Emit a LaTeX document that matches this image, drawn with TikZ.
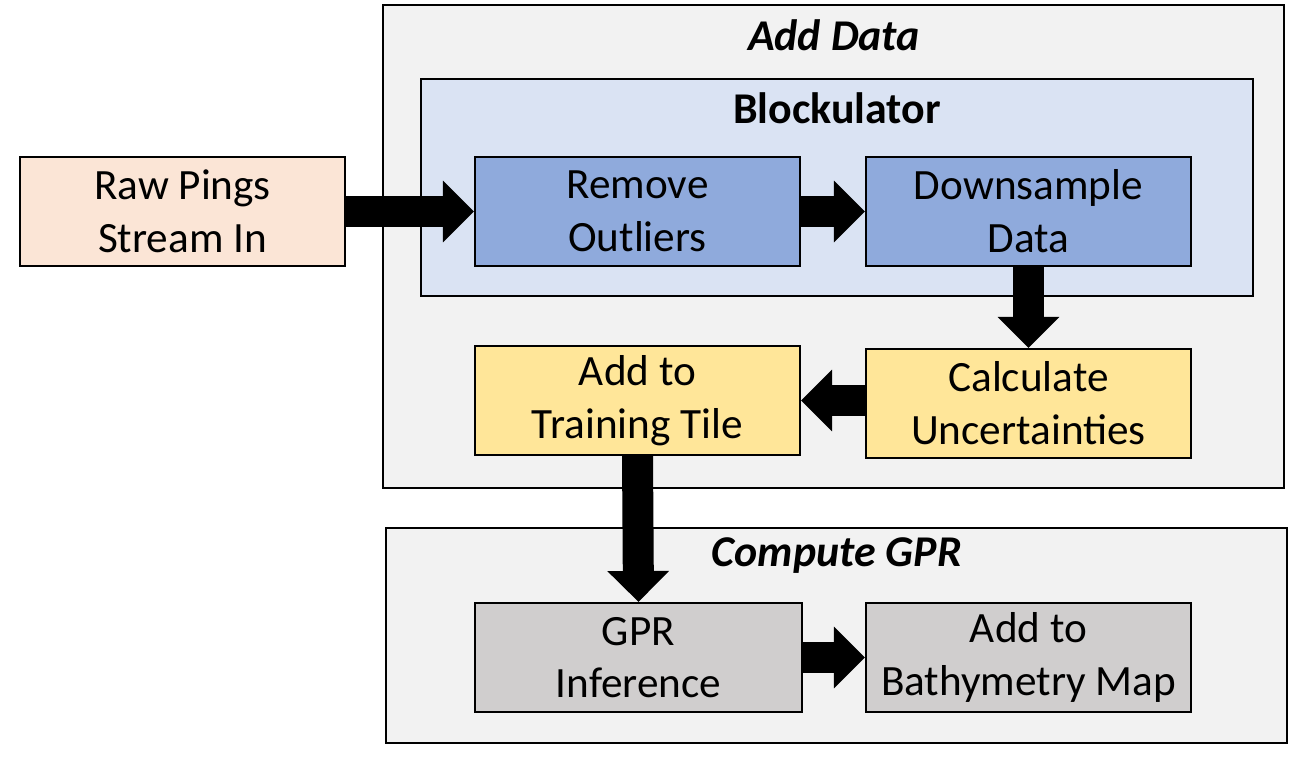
\documentclass[tikz,border=0pt]{standalone}
\usepackage{fontspec}
\setmainfont{Carlito}
\usetikzlibrary{arrows.meta}
\definecolor{grpbg}{HTML}{F2F2F2}
\definecolor{blockbg}{HTML}{DAE3F3}
\definecolor{rawc}{HTML}{FBE5D6}
\definecolor{bluec}{HTML}{8FAADC}
\definecolor{yelc}{HTML}{FFE699}
\definecolor{grayc}{HTML}{D0CECE}
\tikzset{
  px/.style={x=0.02cm,y=-0.02cm},
  group/.style={draw=black,line width=1.2pt,fill=grpbg},
  inner/.style={draw=black,line width=1.2pt,fill=blockbg},
  box/.style={draw=black,line width=1.2pt,minimum width=6.5cm,minimum height=2.18cm,inner sep=0pt,align=center,font=\fontsize{24.6}{30}\selectfont},
  title/.style={font=\fontsize{25}{28}\selectfont\bfseries},
  big/.style={line width=0.62cm,-{Triangle[width=1.2cm,length=0.62cm]}}
}
\begin{document}
\begin{tikzpicture}[px]
\useasboundingbox (0,0) rectangle (1302,757);
\fill[white] (0,0) rectangle (1302,757);
\draw[group] (383,5) rectangle (1284,488);
\node[title,font=\fontsize{25}{28}\selectfont\bfseries\itshape] (tadd) at (834,35) {Add Data};
\draw[inner] (421,79) rectangle (1253,296);
\node[title] (tblock) at (837,108) {Blockulator};
\draw[group] (386,528) rectangle (1287,743);
\node[title,font=\fontsize{25}{28}\selectfont\bfseries\itshape] (tgpr) at (837,556) {Compute GPR};

\node[box,fill=rawc] (raw) at (182.5,211.5) {Raw Pings\\Stream In};
\node[box,fill=bluec] (rem) at (637.5,211.5) {Remove\\Outliers};
\node[box,fill=bluec] (down) at (1028.5,211.5) {Downsample\\Data};
\node[box,fill=yelc] (calc) at (1028.5,403.5) {Calculate\\Uncertainties};
\node[box,fill=yelc] (addt) at (637.5,400.5) {Add to\\Training Tile};
\node[box,fill=grayc,minimum width=6.54cm] (gpr) at (638.5,657.5) {GPR\\Inference};
\node[box,fill=grayc] (bath) at (1028.5,657.5) {Add to\\Bathymetry Map};

\draw[big] (raw.east) -- (rem.west);
\draw[big] (rem.east) -- (down.west);
\draw[big] (down.south) -- (calc.north);
\draw[big] (calc.west |- addt.east) -- (addt.east);
\draw[big] (addt.south) -- (gpr.north);
\draw[big] (gpr.east) -- (bath.west);
\end{tikzpicture}
\end{document}
